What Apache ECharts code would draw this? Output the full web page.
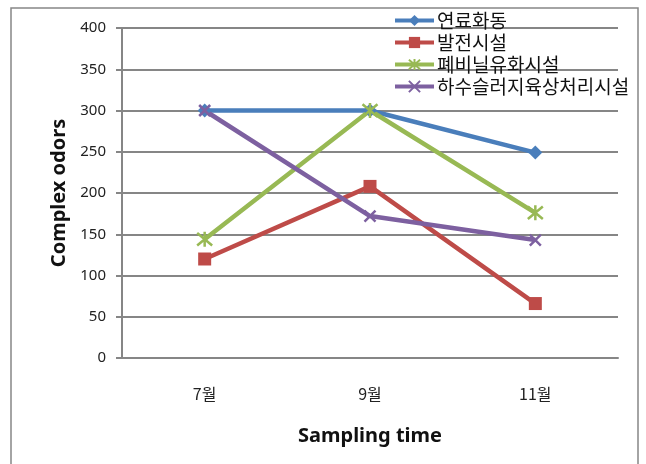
<!DOCTYPE html>
<html>
<head>
<meta charset="utf-8">
<script src="https://cdn.jsdelivr.net/npm/echarts@6/dist/echarts.min.js"></script>
<style>
  html, body { margin: 0; padding: 0; background: #fff; }
  #chart { width: 646px; height: 464px; }
</style>
</head>
<body>
<div id="chart"></div>
<script>
// Sampling months
const months = ['7월', '9월', '11월'];

// Complex odor values per facility type
const seriesNames = ['연료화동', '발전시설', '폐비닐유화시설', '하수슬러지육상처리시설'];
const fuelPlant = [300, 300, 249];
const powerPlant = [120, 208, 66];
const vinylOilPlant = [144, 300, 176];
const sludgePlant = [300, 172, 143];

const yTicks = [0, 50, 100, 150, 200, 250, 300, 350, 400];

const colors = ['#4A7EBB', '#BE4B48', '#98B954', '#7D60A0'];
const axisGray = '#868686';
const labelFont = 'Noto Sans, Liberation Sans, sans-serif';
const cjkFont = '"Noto Sans CJK KR", sans-serif';

// Marker shapes: diamond, square, asterisk, cross
const crossPath = 'path://M0,0L10,10M10,0L0,10';
const starPath = 'path://M0,0L10,10M10,0L0,10M5,-1L5,11';

function lineSeries(name, data, color, symbol, size, stroked) {
  return {
    name: name,
    type: 'line',
    data: data,
    symbol: symbol,
    symbolSize: size,
    showSymbol: true,
    lineStyle: { color: color, width: 4.5 },
    itemStyle: stroked
      ? { color: color, borderColor: color, borderWidth: 2.5 }
      : { color: color, borderWidth: 0 },
    emphasis: { disabled: true },
    animation: false
  };
}

const chart = echarts.init(document.getElementById('chart'), null, { renderer: 'canvas' });

chart.setOption({
  backgroundColor: '#ffffff',
  animation: false,
  graphic: [{
    type: 'rect',
    shape: { x: 11, y: 8, width: 627, height: 470 },
    style: { fill: 'none', stroke: axisGray, lineWidth: 1.5 },
    z: -1
  }],
  grid: { left: 122, right: 28, top: 28, bottom: 106 },
  legend: {
    orient: 'vertical',
    left: 393,
    top: 11,
    itemWidth: 39,
    itemHeight: 14,
    itemGap: 3,
    padding: 0,
    data: seriesNames,
    lineStyle: { width: 4 },
    textStyle: { fontFamily: cjkFont, fontSize: 19, color: '#111', lineHeight: 14, padding: [0, 0, 0, -2] }
  },
  xAxis: {
    type: 'category',
    data: months,
    boundaryGap: true,
    name: 'Sampling time',
    nameLocation: 'middle',
    nameGap: 68,
    nameTextStyle: { fontFamily: labelFont, fontSize: 20, fontWeight: 'bold', color: '#111' },
    axisLine: { show: true, lineStyle: { color: axisGray, width: 2 } },
    axisTick: { show: false },
    axisLabel: { margin: 28, fontFamily: cjkFont, fontSize: 16, color: '#222' }
  },
  yAxis: {
    type: 'value',
    min: yTicks[0],
    max: yTicks[yTicks.length - 1],
    interval: 50,
    name: 'Complex odors',
    nameLocation: 'middle',
    nameGap: 47,
    nameTextStyle: { fontFamily: labelFont, fontSize: 20, fontWeight: 'bold', color: '#111' },
    axisLine: { show: true, lineStyle: { color: axisGray, width: 2 } },
    axisTick: { show: true, length: 6, lineStyle: { color: axisGray, width: 2 } },
    axisLabel: { margin: 16, fontFamily: labelFont, fontSize: 15, color: '#222' },
    splitLine: { show: true, lineStyle: { color: axisGray, width: 2 } }
  },
  series: [
    lineSeries(seriesNames[0], fuelPlant, colors[0], 'diamond', 14, false),
    lineSeries(seriesNames[1], powerPlant, colors[1], 'rect', 13, false),
    lineSeries(seriesNames[2], vinylOilPlant, colors[2], starPath, 15, true),
    lineSeries(seriesNames[3], sludgePlant, colors[3], crossPath, 11, true)
  ]
});
</script>
</body>
</html>
